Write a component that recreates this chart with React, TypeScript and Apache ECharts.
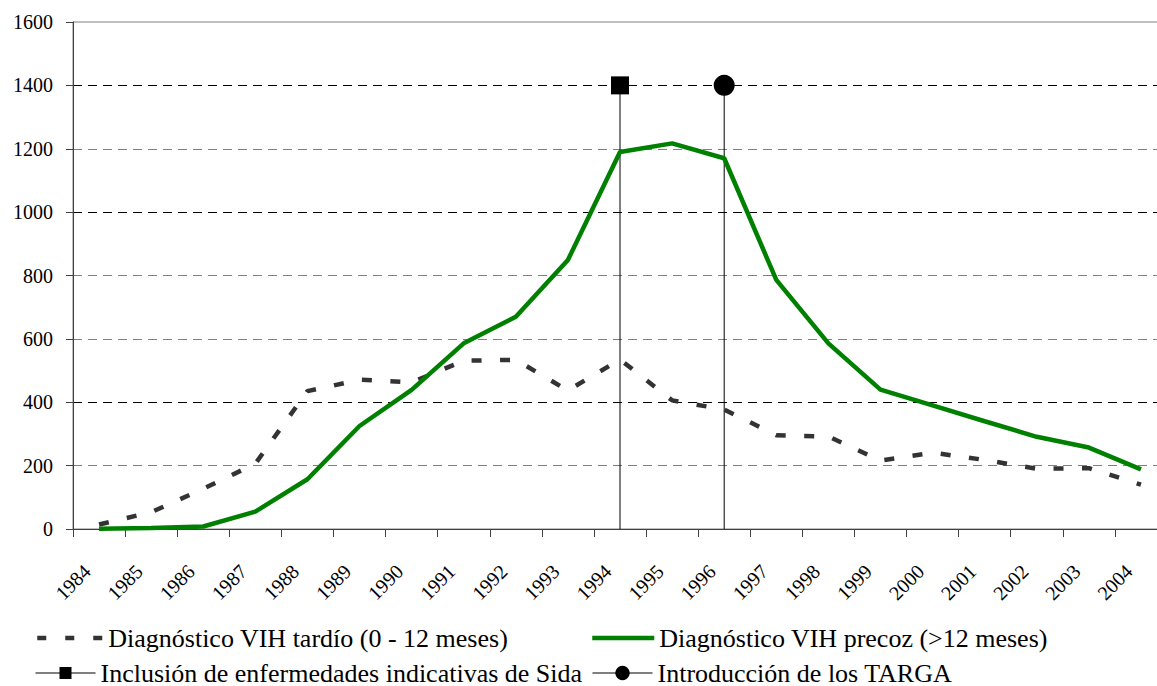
import React, { useEffect, useRef } from "react";
import * as echarts from "echarts";

// Years on the category axis
const years = [
  "1984", "1985", "1986", "1987", "1988", "1989", "1990", "1991", "1992", "1993",
  "1994", "1995", "1996", "1997", "1998", "1999", "2000", "2001", "2002", "2003", "2004",
];

// Late HIV diagnosis (0 - 12 months)
const tardio = [14, 53, 127, 206, 435, 471, 463, 531, 534, 437, 535, 406, 377, 296, 292, 216, 241, 218, 190, 192, 140];

// Early HIV diagnosis (>12 months)
const precoz = [1, 3, 8, 55, 157, 325, 439, 586, 670, 849, 1190, 1217, 1170, 786, 586, 440, 390, 340, 291, 257, 188];

// Event markers (year, height of the drop line)
const inclusionYear = "1994";
const targaYear = "1996";
const markerLevel = 1400;

// Y axis
const yMin = 0;
const yMax = 1600;
const yStep = 200;

const names = {
  tardio: "Diagnóstico VIH tardío (0 - 12 meses)",
  precoz: "Diagnóstico VIH precoz (>12 meses)",
  inclusion: "Inclusión de enfermedades indicativas de Sida",
  targa: "Introducción de los TARGA",
};

const FONT = "Liberation Serif";
const hidden = "rgba(0,0,0,0)";

// Ask the browser for the serif face early so text is laid out with it
if (typeof document !== "undefined" && (document as any).fonts?.load) {
  (document as any).fonts.load(`20px ${FONT}`).catch(() => {});
}

function buildOption() {
  const legendText = { fontFamily: FONT, fontSize: 26, color: "#000" };
  return {
    animation: false,
    backgroundColor: "#fff",
    grid: {
      left: 73,
      right: -10,
      top: 22,
      bottom: 157,
      show: true,
      borderColor: "#808080",
      borderWidth: 1,
      backgroundColor: "transparent",
      outerBoundsMode: "none",
    },
    legend: [
      {
        left: 35,
        top: 625,
        padding: 0,
        selectedMode: false,
        itemWidth: 66,
        itemHeight: 14,
        textStyle: legendText,
        data: [
          {
            name: names.tardio,
            itemStyle: { color: hidden, borderWidth: 0 },
            lineStyle: { width: 4.5, type: [9, 19], color: "#333" },
          },
        ],
      },
      {
        left: 590,
        top: 625,
        padding: 0,
        selectedMode: false,
        itemWidth: 62,
        itemHeight: 14,
        textStyle: legendText,
        data: [
          {
            name: names.precoz,
            itemStyle: { color: hidden, borderWidth: 0 },
            lineStyle: { width: 4.5, color: "#008000" },
          },
        ],
      },
      {
        left: 35,
        top: 660,
        padding: 0,
        selectedMode: false,
        itemWidth: 60,
        itemHeight: 15,
        textStyle: legendText,
        data: [{ name: names.inclusion, lineStyle: { width: 1, color: "#000" } }],
      },
      {
        left: 592,
        top: 660,
        padding: 0,
        selectedMode: false,
        itemWidth: 60,
        itemHeight: 18,
        textStyle: legendText,
        data: [{ name: names.targa, lineStyle: { width: 1, color: "#000" } }],
      },
    ],
    xAxis: {
      type: "category",
      data: years,
      boundaryGap: true,
      axisLine: { show: true, lineStyle: { color: "#404040", width: 1 } },
      axisTick: { show: true, length: 8, inside: false, lineStyle: { color: "#404040" } },
      axisLabel: {
        interval: 0,
        rotate: 45,
        margin: 27,
        padding: [0, 17, 0, 0],
        fontFamily: FONT,
        fontSize: 20,
        color: "#000",
      },
      splitLine: { show: false },
    },
    yAxis: {
      type: "value",
      min: yMin,
      max: yMax,
      interval: yStep,
      axisLine: { show: true, lineStyle: { color: "#404040", width: 1 } },
      axisTick: { show: true, length: 7, inside: false, lineStyle: { color: "#404040" } },
      axisLabel: {
        margin: 20,
        fontFamily: FONT,
        fontSize: 20,
        color: "#000",
        formatter: (v: number) => String(v),
      },
      splitLine: {
        show: true,
        lineStyle: {
          type: [9, 6],
          width: 1,
          color: ["#000", "#808080", "#000", "#808080", "#808080", "#000", "#808080", "#000", hidden],
        },
      },
    },
    series: [
      {
        name: names.inclusion,
        type: "line",
        z: 2,
        symbol: "rect",
        symbolSize: 18,
        showSymbol: true,
        itemStyle: { color: "#000" },
        lineStyle: { color: "#000", width: 1 },
        data: [
          { value: [inclusionYear, 0], symbol: "none" },
          { value: [inclusionYear, markerLevel] },
        ],
      },
      {
        name: names.targa,
        type: "line",
        z: 2,
        symbol: "circle",
        symbolSize: 21,
        showSymbol: true,
        itemStyle: { color: "#000" },
        lineStyle: { color: "#000", width: 1 },
        data: [
          { value: [targaYear, 0], symbol: "none" },
          { value: [targaYear, markerLevel] },
        ],
      },
      {
        name: names.tardio,
        type: "line",
        z: 3,
        symbol: "none",
        itemStyle: { color: "#333" },
        lineStyle: { color: "#333", width: 4.5, type: [10, 18.5], cap: "butt" },
        data: tardio,
      },
      {
        name: names.precoz,
        type: "line",
        z: 4,
        symbol: "none",
        itemStyle: { color: "#008000" },
        lineStyle: { color: "#008000", width: 4.5 },
        data: precoz,
      },
    ],
  };
}

export default function App() {
  const ref = useRef<HTMLDivElement>(null);

  useEffect(() => {
    if (!ref.current) return;
    const chart = echarts.init(ref.current, null, { renderer: "svg" });
    chart.setOption(buildOption());

    // Re-lay out the texts once the serif face is ready
    let alive = true;
    const fonts = (document as any).fonts;
    if (fonts?.ready) {
      fonts.ready.then(() => {
        if (alive) chart.setOption(buildOption(), true);
      });
    }

    return () => {
      alive = false;
      chart.dispose();
    };
  }, []);

  return (
    <div
      ref={ref}
      style={{ position: "absolute", left: 0, top: 0, width: 1157, height: 686, background: "#fff" }}
    />
  );
}
